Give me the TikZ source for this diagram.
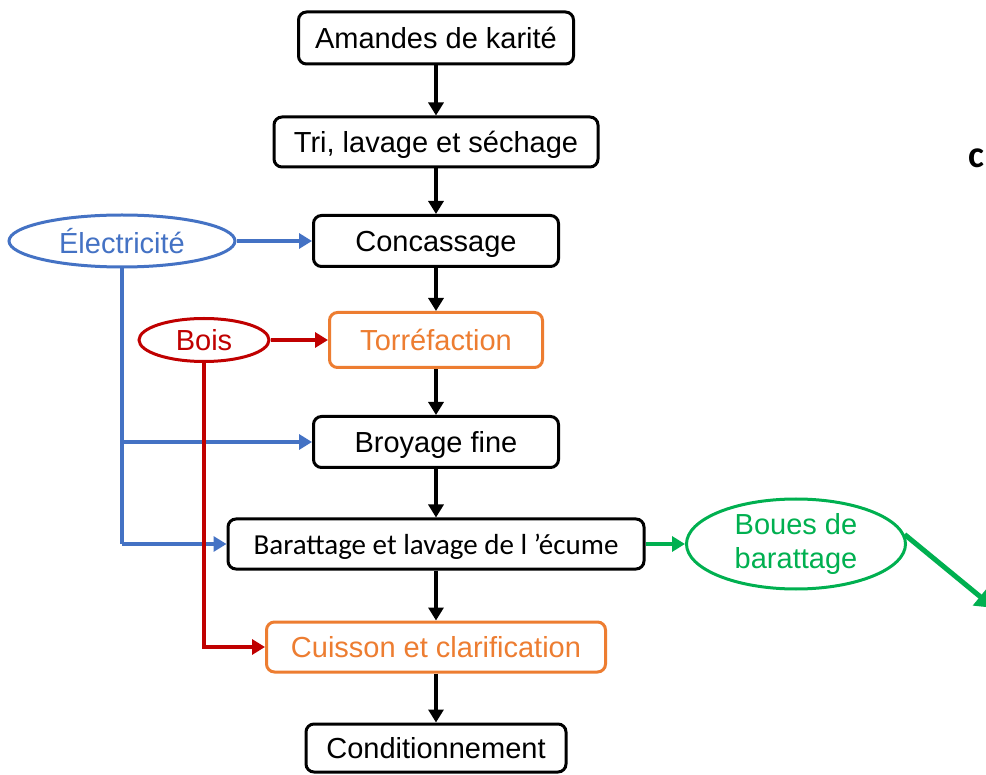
\documentclass[tikz,border=0pt]{standalone}
\usepackage{fontspec}
\setmainfont{Liberation Sans}
\newfontfamily\calib{Carlito}
\usetikzlibrary{arrows.meta,shapes.geometric}
\definecolor{oblue}{RGB}{68,114,196}
\definecolor{ored}{RGB}{192,0,0}
\definecolor{oorange}{RGB}{237,125,49}
\definecolor{ogreen}{RGB}{0,176,80}
\tikzset{
  box/.style={draw=black, line width=3pt, rounded corners=8pt, fill=white, inner sep=0pt, text height=25pt, text depth=4pt, font=\fontsize{29}{33}\selectfont},
  obox/.style={box, draw=oorange, text=oorange},
  ell/.style={ellipse, line width=3pt, inner sep=0pt, font=\fontsize{29}{33}\selectfont, align=center},
  arr/.style={line width=3.8pt, -{Triangle[length=13pt,width=15pt]}},
}
\begin{document}
\begin{tikzpicture}[x={(1pt,0)}, y={(0,-1pt)}]
\useasboundingbox (0,0) rectangle (986,775);
\clip (0,0) rectangle (986,775);
\fill[white] (0,0) rectangle (986,775);
% process boxes
\node[box, minimum width=275pt, minimum height=52pt] (am) at (436,38) {Amandes de karité};
\node[box, minimum width=324pt, minimum height=50pt] (tri) at (436,142) {Tri, lavage et séchage};
\node[box, minimum width=245pt, minimum height=51pt] (con) at (436,241) {Concassage};
\node[obox, minimum width=213pt, minimum height=55pt] (tor) at (436,340) {Torréfaction};
\node[box, minimum width=245pt, minimum height=51pt] (bro) at (436,442) {Broyage fine};
\node[box, minimum width=416pt, minimum height=50pt, font=\calib\fontsize{29}{33}\selectfont] (bar) at (436,544) {Barattage et lavage de l ’écume};
\node[obox, minimum width=339pt, minimum height=50pt] (cui) at (436,647) {Cuisson et clarification};
\node[box, minimum width=260pt, minimum height=48pt] (cond) at (436,748) {Conditionnement};
% inputs / outputs
\node[ell, draw=oblue, text=oblue, minimum width=226pt, minimum height=52pt] (elec) at (122,241) {Électricité};
\node[ell, draw=ored, text=ored, minimum width=130pt, minimum height=43pt] (bois) at (204,340) {Bois};
\node[ell, draw=ogreen, text=ogreen, minimum width=219pt, minimum height=90pt, font=\fontsize{29}{34}\selectfont] (boues) at (796,544) {Boues de\\barattage};
\coordinate (gout) at (994,608);
% partial text at right edge
\node[anchor=base west, inner sep=0pt, font=\calib\bfseries\fontsize{38}{40}\selectfont] (cc) at (968,168) {c};
% main flow
\draw[arr] (am) -- (tri);
\draw[arr] (tri) -- (con);
\draw[arr] (con) -- (tor);
\draw[arr] (tor) -- (bro);
\draw[arr] (bro) -- (bar);
\draw[arr] (bar) -- (cui);
\draw[arr] (cui) -- (cond);
% electricity
\draw[arr, oblue] (elec) -- (con);
\draw[oblue, line width=3.8pt] (elec.south) -- (elec.south |- bar.west);
\draw[arr, oblue] (elec.south |- bro.west) -- (bro.west);
\draw[arr, oblue] (elec.south |- bar.west) -- (bar.west);
% wood
\draw[arr, ored] (bois) -- (tor);
\draw[arr, ored] (bois.south) |- (cui.west);
% sludge
\draw[arr, ogreen] (bar) -- (boues);
\draw[ogreen, line width=5pt, -{Triangle[length=18pt,width=22pt]}] (boues.5) -- (gout);
\end{tikzpicture}
\end{document}
